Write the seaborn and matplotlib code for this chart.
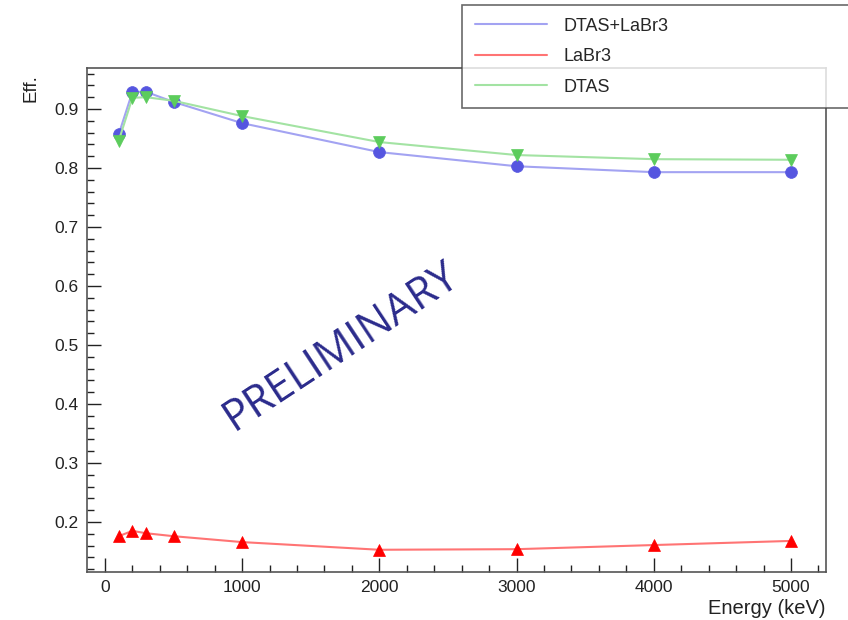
import numpy as np
import pandas as pd
import matplotlib
matplotlib.use('Agg')
import matplotlib.pyplot as plt
from matplotlib.lines import Line2D
from matplotlib.ticker import MultipleLocator, FormatStrFormatter
import seaborn as sns

# Efficiency vs gamma energy
energy = [100, 200, 300, 500, 1000, 2000, 3000, 4000, 5000]
eff_dtas_labr3 = [0.857, 0.929, 0.929, 0.912, 0.876, 0.827, 0.803, 0.793, 0.793]
eff_labr3 = [0.176, 0.185, 0.181, 0.176, 0.166, 0.153, 0.154, 0.161, 0.168]
eff_dtas = [0.846, 0.919, 0.920, 0.914, 0.888, 0.844, 0.822, 0.815, 0.814]

series_names = ['DTAS+LaBr3', 'LaBr3', 'DTAS']
line_colors = ['#a3a3f2', '#ff7474', '#a3e3a3']
marker_colors = ['#5656e0', '#ff0000', '#5ccc5c']
markers = ['o', '^', 'v']

sns.set_style('ticks')
plt.rcParams['font.family'] = ['Liberation Sans', 'DejaVu Sans']

fig = plt.figure(figsize=(8.48, 6.2), dpi=100)
ax = fig.add_axes([0.1026, 0.0774, 0.8714, 0.8129])

data = [eff_dtas_labr3, eff_labr3, eff_dtas]
for name, vals, lc, mc, mk in zip(series_names, data, line_colors, marker_colors, markers):
    df = pd.DataFrame({'energy': energy, 'eff': vals})
    sns.lineplot(data=df, x='energy', y='eff', ax=ax, color=lc, linewidth=1.5,
                 marker=mk, markersize=8.5 if mk == 'o' else 8, markerfacecolor=mc,
                 markeredgecolor=mc, markeredgewidth=0.5, legend=False)

ax.set_xlim(-131, 5255)
ax.set_ylim(0.1153, 0.9695)
ax.xaxis.set_major_locator(MultipleLocator(1000))
ax.xaxis.set_minor_locator(MultipleLocator(200))
ax.yaxis.set_minor_locator(MultipleLocator(0.02))
ax.set_yticks(np.arange(0.2, 0.95, 0.1))
ax.yaxis.set_major_formatter(FormatStrFormatter('%.1f'))
ax.tick_params(which='major', direction='in', length=10, width=1, labelsize=12.5,
               colors='#222222', pad=6)
ax.tick_params(which='minor', direction='in', length=5, width=1, colors='#222222')
for sp in ax.spines.values():
    sp.set_visible(True)
    sp.set_color('#555555')
    sp.set_linewidth(1.2)
ax.set_xlabel('')
ax.set_ylabel('')

fig.text(0.974, 0.019, 'Energy (keV)', ha='right', va='center', fontsize=14.5, color='#222222')
fig.text(0.036, 0.88, 'Eff.', rotation=90, ha='center', va='top', fontsize=13.5, color='#222222')

ax.text(1720, 0.498, 'PRELIMINARY', rotation=33.4, rotation_mode='anchor',
        ha='center', va='center', fontsize=31, color='#2b2b8c', family='Open Sans')

handles = [Line2D([0], [0], color=c, linewidth=1.5) for c in line_colors]
leg = fig.legend(handles, series_names, loc='upper left',
                 bbox_to_anchor=(0.545, 0.992, 0.47, 0.0), mode='expand',
                 frameon=True, fancybox=False, shadow=False, fontsize=13,
                 handlelength=4.0, handletextpad=0.9, labelspacing=0.75,
                 borderpad=0.7, borderaxespad=0)
leg.get_frame().set_edgecolor('#444444')
leg.get_frame().set_linewidth(1.2)

fig.savefig('out.png', dpi=100)
